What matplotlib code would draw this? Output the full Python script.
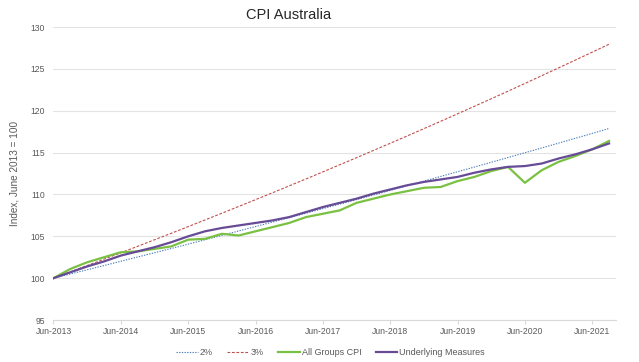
import matplotlib
matplotlib.use('Agg')
import matplotlib.pyplot as plt
import numpy as np

plt.rcParams['font.family'] = ['Liberation Sans', 'DejaVu Sans']

# quarterly, Jun-2013 .. Sep-2021 (index, Jun-2013 = 100)
ref_2pct = [100.00, 100.50, 101.00, 101.51, 102.02, 102.53, 103.04, 103.55, 104.07, 104.59,
            105.11, 105.64, 106.17, 106.70, 107.23, 107.77, 108.31, 108.85, 109.39, 109.94,
            110.49, 111.04, 111.60, 112.16, 112.72, 113.28, 113.85, 114.42, 114.99, 115.56,
            116.14, 116.72, 117.30, 117.89]
ref_3pct = [100.00, 100.75, 101.51, 102.27, 103.03, 103.81, 104.59, 105.37, 106.16, 106.96,
            107.76, 108.57, 109.38, 110.20, 111.03, 111.86, 112.70, 113.55, 114.40, 115.26,
            116.12, 116.99, 117.87, 118.75, 119.64, 120.54, 121.44, 122.35, 123.27, 124.20,
            125.13, 126.07, 127.01, 127.96]
all_groups = [100.0, 101.1, 101.9, 102.5, 103.1, 103.2, 103.5, 103.8, 104.6, 104.7,
              105.3, 105.1, 105.6, 106.1, 106.6, 107.3, 107.7, 108.1, 109.0, 109.5,
              110.0, 110.4, 110.8, 110.9, 111.6, 112.1, 112.8, 113.3, 111.4, 112.9,
              113.9, 114.6, 115.4, 116.4]
underlying = [100.0, 100.7, 101.4, 102.0, 102.7, 103.2, 103.7, 104.3, 105.0, 105.6,
              106.0, 106.3, 106.6, 106.9, 107.3, 107.9, 108.5, 109.0, 109.5, 110.1,
              110.6, 111.1, 111.5, 111.8, 112.1, 112.6, 113.0, 113.3, 113.4, 113.7,
              114.3, 114.8, 115.4, 116.1]
tick_labels = ['Jun-2013', 'Jun-2014', 'Jun-2015', 'Jun-2016', 'Jun-2017',
               'Jun-2018', 'Jun-2019', 'Jun-2020', 'Jun-2021']

x = np.arange(len(all_groups))

fig = plt.figure(figsize=(6.39, 3.62), dpi=100)
ax = fig.add_axes([0.0837, 0.116, 0.880, 0.809])

ax.plot(x, ref_2pct, color='#4a7ebb', lw=0.8, ls=(0, (1.2, 1.2)), label='2%')
ax.plot(x, ref_3pct, color='#c0504d', lw=0.8, ls=(0, (2.5, 1.5)), label='3%')
ax.plot(x, all_groups, color='#7ac143', lw=1.6, label='All Groups CPI')
ax.plot(x, underlying, color='#674b97', lw=1.6, label='Underlying Measures')

ax.set_ylim(95, 130)
ax.set_yticks(np.arange(95, 131, 5))
ax.set_xlim(0, 33.4)
ax.set_xticks(np.arange(0, 33, 4))
ax.set_xticklabels(tick_labels)

ax.grid(axis='y', color='#e3e3e3', lw=0.8)
ax.set_axisbelow(True)
for s in ['top', 'right', 'left']:
    ax.spines[s].set_visible(False)
ax.spines['bottom'].set_color('#d9d9d9')
ax.spines['bottom'].set_linewidth(0.8)
ax.tick_params(axis='y', length=0, labelsize=6.2, labelcolor='#595959', pad=6)
ax.tick_params(axis='x', length=3, color='#d9d9d9', labelsize=6.2, labelcolor='#595959', pad=2)

ax.set_ylabel('Index, June 2013 = 100', fontsize=7.2, color='#595959')
ax.yaxis.set_label_coords(-0.060, 0.5)

fig.text(0.451, 0.958, 'CPI Australia', ha='center', va='center', fontsize=10.5, color='#262626')

fig.legend(loc='center', bbox_to_anchor=(0.517, 0.025), ncol=4, frameon=False,
           fontsize=6.5, handlelength=2.4, handletextpad=0.2, columnspacing=1.6,
           labelcolor='#595959')

fig.savefig('out.png', dpi=100)
